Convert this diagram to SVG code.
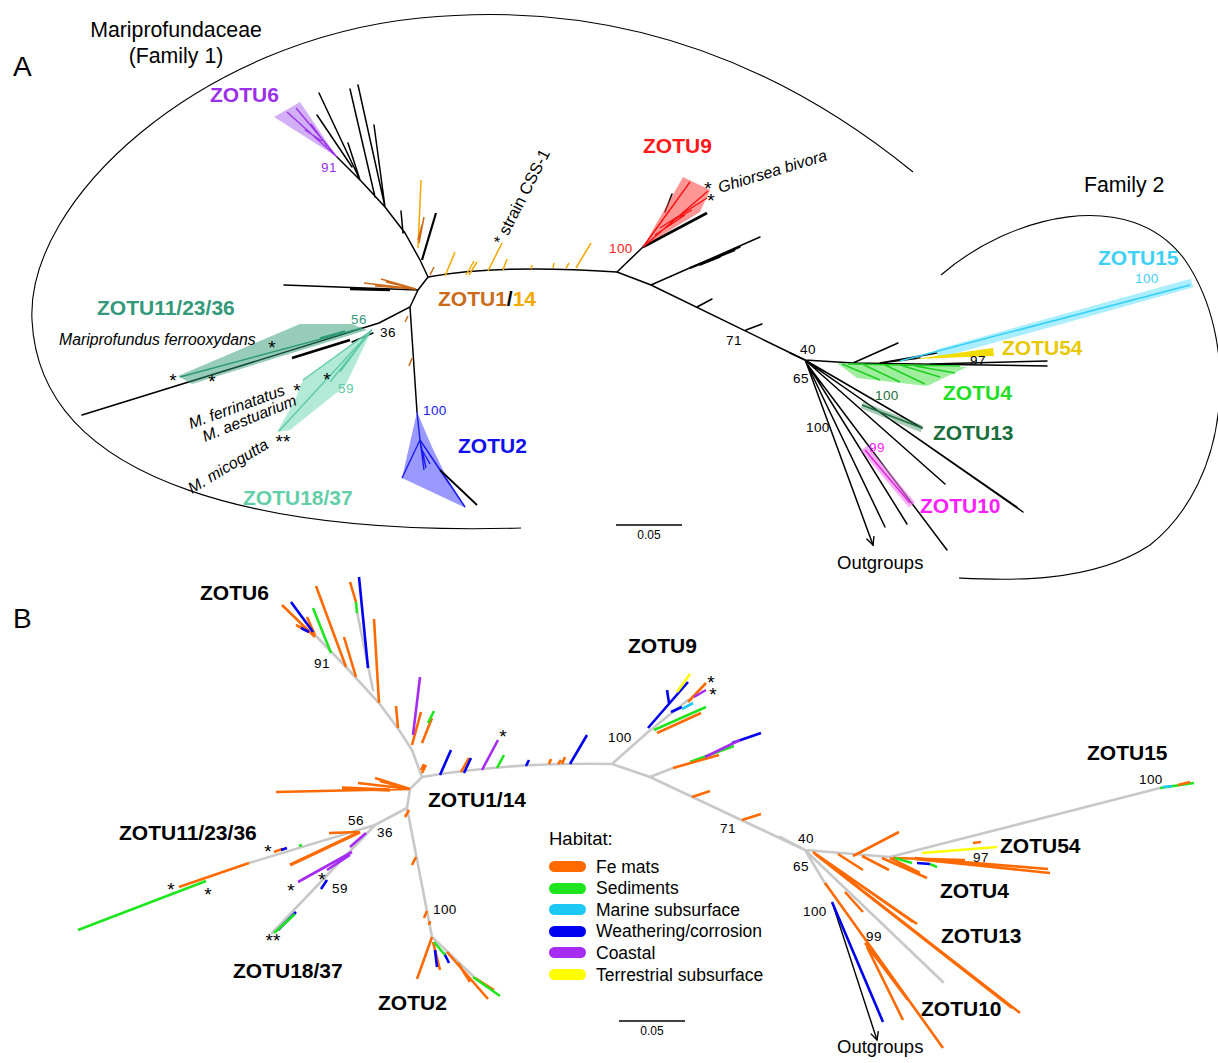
<svg xmlns="http://www.w3.org/2000/svg" width="1218" height="1063" viewBox="0 0 1218 1063">
<defs>
<style>
text{font-family:"Liberation Sans",Arial,Helvetica,sans-serif;fill:#000}
.z{font-size:21px;font-weight:bold}
.n{font-size:13.5px;letter-spacing:0.4px}
.sp{font-size:15.8px;font-style:italic}
.ast{font-size:19px;text-anchor:middle}
.big{font-size:21.3px}
.lg{font-size:17.5px}
.k{stroke:#000;stroke-width:1.5;fill:none;stroke-linecap:round}
.kt{stroke:#000;stroke-width:2.6;fill:none}
.gy{stroke:#c8c8c8;stroke-width:2.6;fill:none;stroke-linecap:round}
.o{stroke:#ff6a00;stroke-width:2.6;fill:none}
.gn{stroke:#1fe51f;stroke-width:2.6;fill:none}
.c{stroke:#1ec8f5;stroke-width:2.6;fill:none}
.b{stroke:#0000f0;stroke-width:2.6;fill:none}
.p{stroke:#a52cf0;stroke-width:2.6;fill:none}
.y{stroke:#ffff00;stroke-width:2.6;fill:none}
.do{stroke:#cc6a1a;stroke-width:1.5;fill:none}
.au{stroke:#f5a800;stroke-width:1.5;fill:none}
</style>
<marker id="arr" markerWidth="12" markerHeight="12" refX="9" refY="5" orient="auto" markerUnits="userSpaceOnUse">
<path d="M1,1 L9,5 L1,9" fill="none" stroke="#000" stroke-width="1.4"/>
</marker>
</defs>
<rect width="1218" height="1063" fill="#fff"/>

<!-- ================= PANEL A ================= -->
<g id="panelA">
<g id="A-frame">
<text x="13" y="76" style="font-size:28px">A</text>
<text x="176" y="37" class="big" text-anchor="middle">Mariprofundaceae</text>
<text x="176" y="63" class="big" text-anchor="middle">(Family 1)</text>
<path d="M521,528 C280,535 40,490 32,320 C26,200 200,40 420,18 C640,-4 800,80 913,172" fill="none" stroke="#000" stroke-width="1.1"/>
<text x="1084" y="192" class="big">Family 2</text>
<path d="M941,275 C1010,215 1130,185 1185,260 C1240,340 1232,480 1150,545 C1090,585 1000,580 959,578" fill="none" stroke="#000" stroke-width="1.1"/>
<path d="M616,525 L682,525" stroke="#000" stroke-width="1.5"/>
<text x="649" y="539" text-anchor="middle" style="font-size:12px">0.05</text>
</g>

<g id="A-connectors">
<path class="k" d="M428,277 L420,260 L405,233 L385,207 L362,182 L337,157 M360,180 L319,93 M352,167 L317,115 M375,197 L350,89 M385,207 L358,85 M360,180 L348,143 M385,207 L374,125 M403,233 L401,211"/>
<path d="M422,260 L436,213" stroke="#000" stroke-width="2.2"/>
<path class="k" d="M428,277 Q500,264 617,272 M428,277 L418,290 L410,307 L379,323 L82,415 M418,290 L284,285 M410,307 L417,412"/>
<path class="kt" d="M350,289 L390,290 M292,358 L350,340"/>
<path class="k" d="M352,342 L373,333"/>
<path class="k" d="M617,272 L643,247 M617,272 L651,285 L805,360 M651,285 L760,237 M700,265 L720,257 M705,263 L740,247 M697,307 L712,299 M746,330 L762,324"/>
<path d="M690,268 L735,250" stroke="#000" stroke-width="2.2"/>
<path class="kt" d="M643,247 L707,213"/>
<path class="k" d="M665,212 L672,194"/>
<path class="k" d="M790,353 L805,360 L853,363 L1047,366 M930,364 L1047,361 M853,363 L898,343 M880,363 L937,353 M880,363 L920,358 M805,360 L922,428 M805,360 L1023,512 M806,361 L1017,507 M805,360 L945,484 M806,362 L885,527 M808,365 L907,524 M810,368 L947,550"/>
<path class="k" d="M806,362 L873,545" marker-end="url(#arr)"/>
<text x="837" y="569" style="font-size:18.5px">Outgroups</text>
<!-- ZOTU1/14 ticks -->
<path class="au" d="M418,248 L421,180 M445,276 L455,252 M466,275 L474,261 M469,275 L477,262 M488,271 L502,243 M503,270 L507,259 M531,269 L532,265 M553,268 L554,263 M566,268 L569,263 M576,268 L591,243"/>
<path class="do" d="M419,243 L424,217 M418,240 L422,225 M430,275 L434,267 M364,283 L416,289 M381,279 L416,289 M386,282 L416,289 M375,286 L416,289 M408,316 L405,322 M412,358 L409,366"/>
<text transform="translate(503,246) rotate(-63)" style="font-size:16.5px">* strain CSS-1</text>
</g>

<g id="A-zotu6">
<polygon points="274,117 300,102 337,157" fill="#b57cf0" fill-opacity="0.6"/>
<path d="M337,157 L287,112 M337,157 L296,108 M322,141 L305,130 M327,146 L311,124" stroke="#9b30e8" stroke-width="1.3" fill="none"/>
<text x="210" y="102" class="z" style="fill:#9b30e8">ZOTU6</text>
<text x="321" y="172" class="n" style="fill:#9b30e8">91</text>
</g>

<g id="A-zotu1-14">
<text x="438" y="306" class="z"><tspan style="fill:#cc6a1a">ZOTU1</tspan>/<tspan style="fill:#f5a800">14</tspan></text>
</g>

<g id="A-zotu11">
<polygon points="178,376 300,324 352,324 367,330 192,384" fill="#2e9a74" fill-opacity="0.5"/>
<path d="M362,328 L180,377 M345,331 L320,338" stroke="#2e9a74" stroke-width="1.5" fill="none"/>
<text x="97" y="315" class="z" style="fill:#33997a">ZOTU11/23/36</text>
<text x="351" y="324" class="n" style="fill:#33997a">56</text>
<text x="380" y="337" class="n">36</text>
<text x="59" y="345" class="sp">Mariprofundus ferrooxydans</text>
<text x="272" y="354" class="ast">*</text>
<text x="173" y="387" class="ast">*</text>
<text x="212" y="388" class="ast">*</text>
</g>

<g id="A-zotu18">
<polygon points="372,330 303,380 295,400 277,432 290,430 345,386" fill="#7fdcbc" fill-opacity="0.6"/>
<path d="M372,330 L303,380 M372,330 L279,431 M372,330 L330,382 M360,345 L340,372" stroke="#5cc9a4" stroke-width="1.3" fill="none"/>
<text x="338" y="393" class="n" style="fill:#5cc9a4">59</text>
<text x="243" y="505" class="z" style="fill:#62cfa8">ZOTU18/37</text>
<text transform="translate(191,429) rotate(-20)" class="sp">M. ferrinatatus</text>
<text transform="translate(205,442) rotate(-22)" class="sp">M. aestuarium</text>
<text transform="translate(192,494) rotate(-31)" class="sp">M. micogutta</text>
<text x="297" y="397" class="ast">*</text>
<text x="327" y="386" class="ast">*</text>
<text x="283" y="448" class="ast">**</text>
</g>

<g id="A-zotu2">
<polygon points="417,412 432,447 446,476 466,508 402,478" fill="#5555ff" fill-opacity="0.6"/>
<path d="M417,412 L420,440 L402,478 M420,440 L465,507 M420,440 L424,470 M421,445 L426,468 M422,450 L430,464 M430,455 L450,485" stroke="#1a1aee" stroke-width="1.4" fill="none"/>
<path d="M440,470 L477,505" stroke="#000" stroke-width="1.8"/>
<text x="423" y="415" class="n" style="fill:#1a1aee">100</text>
<text x="458" y="453" class="z" style="fill:#1010ee">ZOTU2</text>
</g>

<g id="A-zotu9">
<polygon points="643,247 683,177 710,190 700,212" fill="#ff4040" fill-opacity="0.55"/>
<path d="M643,247 L690,182 M643,247 L708,191 M660,228 L707,198 M670,222 L692,210 M655,235 L685,215" stroke="#ff1010" stroke-width="1.4" fill="none"/>
<text x="643" y="153" class="z" style="fill:#ff1a1a">ZOTU9</text>
<text x="609" y="253" class="n" style="fill:#ff1a1a">100</text>
<text x="708 711" y="195 207" class="ast">**</text>
<text transform="translate(720,193) rotate(-17)" style="font-size:16px;font-style:italic">Ghiorsea bivora</text>
<text x="726" y="345" class="n">71</text>
<text x="800" y="354" class="n">40</text>
<text x="793" y="383" class="n">65</text>
</g>

<g id="A-zotu15">
<path d="M937,354 L1192,283" stroke="#8ee8ff" stroke-width="9" stroke-opacity="0.75" fill="none"/>
<path d="M900,361 L1190,285" stroke="#36d0f5" stroke-width="1.5" fill="none"/>
<text x="1098" y="265" class="z" style="fill:#3fd0f5">ZOTU15</text>
<text x="1135" y="283" class="n" style="fill:#3fd0f5">100</text>
</g>

<g id="A-zotu54">
<polygon points="915,359 993,348 994,356" fill="#f2dc00"/>
<text x="1002" y="355" class="z" style="fill:#e8c800">ZOTU54</text>
<text x="970" y="365" class="n">97</text>
</g>

<g id="A-zotu4">
<polygon points="837,363 967,367 927,386 857,378" fill="#4ee04e" fill-opacity="0.55"/>
<path d="M842,364 L880,380 M862,364 L900,382 M885,365 L925,384 M900,365 L940,377 M915,366 L955,373 M848,364 L960,366" stroke="#1fd01f" stroke-width="1.4" fill="none"/>
<text x="943" y="400" class="z" style="fill:#22dd22">ZOTU4</text>
</g>

<g id="A-zotu13">
<path d="M862,405 L922,429" stroke="#2d7a4a" stroke-width="7" stroke-opacity="0.4" fill="none"/>
<path d="M862,405 L922,428" stroke="#1a6e3c" stroke-width="1.4" fill="none"/>
<text x="875" y="400" class="n" style="fill:#1a6e3c">100</text>
<text x="933" y="440" class="z" style="fill:#1a6e3c">ZOTU13</text>
<text x="806" y="432" class="n">100</text>
</g>

<g id="A-zotu10">
<path d="M864,448 L912,505" stroke="#f07af0" stroke-width="8" stroke-opacity="0.6" fill="none"/>
<path d="M865,450 L910,503" stroke="#e020e0" stroke-width="1.4" fill="none"/>
<text x="869" y="452" class="n" style="fill:#ff20ff">99</text>
<text x="920" y="513" class="z" style="fill:#ff20ff">ZOTU10</text>
</g>
</g>

<!-- ================= PANEL B ================= -->
<g id="panelB">
<text x="13" y="628" style="font-size:28px">B</text>

<g id="B-connectors">
<path class="gy" d="M422,777 L412,750 L399,730 L379,703 L346,667 L315,635 M357,612 L373,690 M422,777 Q510,762 612,764 M422,777 L410,789 L407,808 M407,808 L375,825 L249,863 M375,825 L272,933 M407,808 L432,937 L473,976 M612,764 L648,732 L688,700 M612,764 L650,777 L805,850 M650,777 L673,768 M780,837 L805,850 L890,857 L1160,788 M805,850 L943,982 M805,850 L826,885"/>
<path d="M834,908 L877,1040" fill="none" stroke="#000" stroke-width="1.4" marker-end="url(#arr)"/>
<text x="837" y="1053" style="font-size:18.5px">Outgroups</text>
<path d="M619,1021 L685,1021" stroke="#000" stroke-width="1.5"/>
<text x="652" y="1035" text-anchor="middle" style="font-size:12px">0.05</text>
</g>

<g id="B-tips">
<path class="o" d="M282,605 L315,637 M296,625 L310,632 M307,617 L315,635 M316,586 L346,667 M344,637 L356,677 M350,582 L356,602 M374,619 L379,703 M396,706 L398,728 M421,712 L412,745 M432,718 L422,743 M426,765 L422,773 M276,792 L410,789 M358,783 L410,789 M375,778 L410,789 M380,781 L410,789 M461,772 L469,758 M421,770 L424,764 M549,764 L551,759 M562,764 L565,757 M558,764 L561,760"/>
<path d="M342,788 L390,790" stroke="#ff6a00" stroke-width="3.6"/>
<path class="b" d="M291,602 L313,632 M301,628 L309,632 M359,577 L368,668 M440,775 L451,750 M464,773 L471,758 M526,766 L529,760 M570,764 L587,735"/>
<path class="gn" d="M313,608 L331,653 M356,602 L357,613 M434,711 L428,723 M497,768 L504,755"/>
<path class="p" d="M420,677 L413,735 M482,770 L498,740"/>
<text x="503" y="743" class="ast">*</text>

<!-- ZOTU11/23/36 & 18/37 -->
<path class="o" d="M274,852 L282,849 M249,863 L179,887 M329,833 L358,832 M405,817 L409,810 M412,865 L416,857 M424,918 L427,911 M429,925 L430,921"/>
<path d="M290,865 L360,832" stroke="#ff6a00" stroke-width="3.4"/>
<path class="b" d="M281,850 L287,848 M321,889 L327,880 M278,930 L296,912"/>
<path class="gn" d="M299,846 L302,845 M206,881 L78,930 M274,933 L295,914"/>
<path class="p" d="M350,847 L366,833 M298,882 L352,852 M327,870 L350,855"/>
<text x="268" y="858" class="ast">*</text>
<text x="171" y="896" class="ast">*</text>
<text x="208" y="901" class="ast">*</text>
<text x="291" y="897" class="ast">*</text>
<text x="322" y="886" class="ast">*</text>
<text x="273" y="947" class="ast">**</text>

<!-- ZOTU2 -->
<path class="o" d="M432,937 L417,979 M433,942 L440,970 M447,952 L488,999 M458,963 L470,982 M475,978 L494,990"/>
<path class="b" d="M435,950 L437,967 M444,953 L449,963"/>
<path class="gn" d="M434,942 L445,955 M473,977 L500,996"/>

<!-- ZOTU9 -->
<path class="b" d="M648,728 L688,682 M667,690 L669,703 M671,712 L682,707 M732,743 L761,733"/>
<path class="y" d="M677,692 L690,674"/>
<path class="c" d="M682,709 L693,703"/>
<path class="gn" d="M654,730 L706,707 M690,762 L734,746"/>
<path class="o" d="M657,733 L701,713 M688,702 L706,683 M673,768 L719,755 M692,797 L710,791 M742,820 L761,814"/>
<path class="p" d="M694,697 L706,690 M705,757 L740,740"/>
<text x="711 713" y="689 701" class="ast">**</text>

<!-- Family 2 region -->
<path class="o" d="M899,832 L853,856 M838,854 L863,870 M862,856 L889,870 M882,858 L927,878 M890,858 L920,873 M893,858 L965,860 M915,859 L1050,873 M915,858 L1048,869 M813,852 L917,924 M813,852 L913,922 M813,852 L1020,1013 M815,854 L1012,1008 M825,883 L943,1048 M845,892 L863,912 M867,947 L903,1020 M865,943 L908,1000 M973,843 L981,842"/>
<path class="gn" d="M895,858 L912,863 M930,864 L937,867 M1160,788 L1194,783"/>
<path class="b" d="M917,863 L930,864 M832,902 L883,1022"/>
<path class="y" d="M922,853 L997,847"/>
<path class="c" d="M1163,787 L1172,786"/>
<path class="o" d="M1178,785 L1190,782"/>
</g>

<g id="B-labels">
<text x="200" y="600" class="z">ZOTU6</text>
<text x="314" y="668" class="n">91</text>
<text x="428" y="807" class="z">ZOTU1/14</text>
<text x="119" y="840" class="z">ZOTU11/23/36</text>
<text x="348" y="825" class="n">56</text>
<text x="377" y="837" class="n">36</text>
<text x="332" y="893" class="n">59</text>
<text x="233" y="978" class="z">ZOTU18/37</text>
<text x="433" y="914" class="n">100</text>
<text x="378" y="1010" class="z">ZOTU2</text>
<text x="628" y="653" class="z">ZOTU9</text>
<text x="608" y="742" class="n">100</text>
<text x="720" y="833" class="n">71</text>
<text x="798" y="843" class="n">40</text>
<text x="793" y="871" class="n">65</text>
<text x="973" y="862" class="n">97</text>
<text x="803" y="916" class="n">100</text>
<text x="866" y="941" class="n">99</text>
<text x="1139" y="784" class="n">100</text>
<text x="1087" y="760" class="z">ZOTU15</text>
<text x="1000" y="853" class="z">ZOTU54</text>
<text x="940" y="898" class="z">ZOTU4</text>
<text x="941" y="943" class="z">ZOTU13</text>
<text x="921" y="1016" class="z">ZOTU10</text>
</g>

<g id="B-legend">
<text x="549" y="845" style="font-size:18.5px">Habitat:</text>
<rect x="549" y="861" width="37" height="11" rx="5.5" fill="#ff6a00"/>
<rect x="549" y="883" width="37" height="11" rx="5.5" fill="#1fe51f"/>
<rect x="549" y="904" width="37" height="11" rx="5.5" fill="#1ec8f5"/>
<rect x="549" y="926" width="37" height="11" rx="5.5" fill="#0000f0"/>
<rect x="549" y="947" width="37" height="11" rx="5.5" fill="#a52cf0"/>
<rect x="549" y="969" width="37" height="11" rx="5.5" fill="#ffff00"/>
<text x="596" y="873" class="lg">Fe mats</text>
<text x="596" y="894" class="lg">Sediments</text>
<text x="596" y="916" class="lg">Marine subsurface</text>
<text x="596" y="937" class="lg">Weathering/corrosion</text>
<text x="596" y="959" class="lg">Coastal</text>
<text x="596" y="981" class="lg">Terrestrial subsurface</text>
</g>
</g>
</svg>
